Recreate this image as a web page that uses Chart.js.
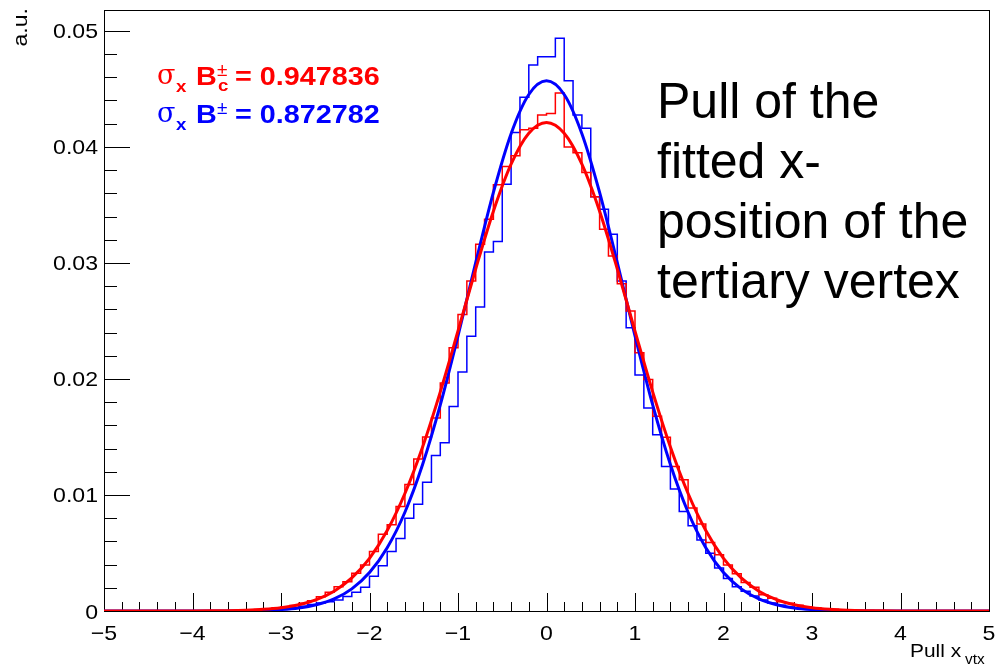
<!DOCTYPE html>
<html>
<head>
<meta charset="utf-8">
<script src="https://cdn.jsdelivr.net/npm/chart.js@4.4.1/dist/chart.umd.min.js"></script>
<style>
  html, body { margin: 0; padding: 0; background: #fff; }
  canvas { display: block; }
</style>
</head>
<body>
<canvas id="pull" width="996" height="667"></canvas>
<script>
// 100 bins of 0.1 between -5 and 5
const binLow = -5;
const binWidth = 0.1;

// B_c± histogram (red), bins -5.0 ... 4.9
const histBc = [
  0, 0, 0, 0, 0, 0, 0, 0, 0, 0,
  0.00001, 0.00002, 0.00002, 0.00003, 0.00005, 0.00007, 0.0001, 0.00014, 0.0002, 0.00027,
  0.00036, 0.00048, 0.00066, 0.00088, 0.00122, 0.00162, 0.0021, 0.00253, 0.00325, 0.00397,
  0.00512, 0.00662, 0.00743, 0.009, 0.0109, 0.0131, 0.015, 0.01664, 0.01966, 0.02268,
  0.02556, 0.02844, 0.0316, 0.03377, 0.03673, 0.03831, 0.03923, 0.04148, 0.0416, 0.04275,
  0.04289, 0.04465, 0.04, 0.0395, 0.0378, 0.0357, 0.0329, 0.0306, 0.0282, 0.02585,
  0.02225, 0.01995, 0.01678, 0.01497, 0.01246, 0.01131, 0.00887, 0.00749, 0.0059, 0.00484,
  0.00397, 0.0032, 0.00245, 0.00205, 0.0014, 0.0011, 0.0008, 0.00066, 0.0005, 0.00037,
  0.00028, 0.0002, 0.00015, 0.0001, 0.00007, 0.00005, 0.00004, 0.00003, 0.00002, 0.00001,
  0, 0, 0, 0, 0, 0, 0, 0, 0, 0
];

// B± histogram (blue)
const histB = [
  0, 0, 0, 0, 0, 0, 0, 0, 0, 0,
  0, 0.00001, 0.00001, 0.00002, 0.00002, 0.00003, 0.00005, 0.00007, 0.0001, 0.00014,
  0.0002, 0.00028, 0.0004, 0.00055, 0.0007, 0.0008, 0.00095, 0.00124, 0.00161, 0.00205,
  0.003, 0.00391, 0.00512, 0.00625, 0.008, 0.0092, 0.0111, 0.0134, 0.0145, 0.01762,
  0.02061, 0.02369, 0.0262, 0.03094, 0.03184, 0.03679, 0.04125, 0.04427, 0.04706, 0.04778,
  0.04778, 0.04937, 0.04571, 0.04275, 0.0416, 0.0357, 0.03463, 0.03247, 0.02844, 0.02441,
  0.02035, 0.0175, 0.0152, 0.01246, 0.01051, 0.00858, 0.00734, 0.00613, 0.00498, 0.0037,
  0.0028, 0.0021, 0.0017, 0.0013, 0.00095, 0.0007, 0.0005, 0.00035, 0.00025, 0.00018,
  0.00012, 0.00008, 0.00006, 0.00004, 0.00002, 0.00002, 0.00001, 0, 0, 0,
  0, 0, 0, 0, 0, 0, 0, 0, 0, 0
];

// gaussian fit curves, sampled off the plot
const fitX = [-5, -4.5, -4, -3.8, -3.6, -3.4, -3.2, -3, -2.8, -2.6, -2.4, -2.2, -2, -1.8, -1.6, -1.4, -1.2, -1, -0.8, -0.6, -0.4, -0.2,
  0, 0.2, 0.4, 0.6, 0.8, 1, 1.2, 1.4, 1.6, 1.8, 2, 2.2, 2.4, 2.6, 2.8, 3, 3.2, 3.4, 3.6, 3.8, 4, 4.5, 5];
const fitBc = [0, 0.000001, 0.0000057, 0.0000136, 0.000031, 0.0000676, 0.000141, 0.000281, 0.000536, 0.000978, 0.00171, 0.00285, 0.00454, 0.00694, 0.01013, 0.01414, 0.01889, 0.02413, 0.02948, 0.03446, 0.03851, 0.04117,
  0.0421, 0.04117, 0.03851, 0.03446, 0.02948, 0.02413, 0.01889, 0.01414, 0.01013, 0.00694, 0.00454, 0.00285, 0.00171, 0.000978, 0.000536, 0.000281, 0.000141, 0.0000676, 0.000031, 0.0000136, 0.0000057, 0.000001, 0];
const fitB = [0, 0, 0.0000013, 0.0000035, 0.0000092, 0.0000231, 0.000055, 0.000124, 0.000266, 0.000541, 0.00104, 0.00191, 0.00331, 0.00545, 0.00851, 0.01262, 0.01776, 0.02371, 0.03002, 0.03608, 0.04114, 0.04452,
  0.0457, 0.04452, 0.04114, 0.03608, 0.03002, 0.02371, 0.01776, 0.01262, 0.00851, 0.00545, 0.00331, 0.00191, 0.00104, 0.000541, 0.000266, 0.000124, 0.000055, 0.0000231, 0.0000092, 0.0000035, 0.0000013, 0, 0];

const xTicks = [-5, -4, -3, -2, -1, 0, 1, 2, 3, 4, 5];
const xTickLabels = ["\u22125", "\u22124", "\u22123", "\u22122", "\u22121", "0", "1", "2", "3", "4", "5"];
const yTicks = [0, 0.01, 0.02, 0.03, 0.04, 0.05];
const yTickLabels = ["0", "0.01", "0.02", "0.03", "0.04", "0.05"];

const RED = "#ff0000";
const BLUE = "#0000ff";

function stepPoints(vals) {
  const pts = vals.map((v, i) => ({ x: binLow + i * binWidth, y: v }));
  pts.push({ x: binLow + vals.length * binWidth, y: vals[vals.length - 1] });
  return pts;
}

function curvePoints(xs, ys) {
  return xs.map((x, i) => ({ x, y: ys[i] }));
}

// text squeezed/stretched horizontally like the ROOT output
function txt(ctx, s, x, y, font, color, sx, align) {
  ctx.save();
  ctx.font = font;
  ctx.fillStyle = color;
  ctx.textAlign = align || "left";
  ctx.textBaseline = "alphabetic";
  ctx.translate(x, y);
  ctx.scale(sx || 1, 1);
  ctx.fillText(s, 0, 0);
  ctx.restore();
}

const rootFrame = {
  id: "rootFrame",
  beforeDatasetsDraw(chart) {
    const { ctx, chartArea: a, scales } = chart;
    const xs = scales.x, ys = scales.y;
    ctx.save();
    ctx.strokeStyle = "#000";
    ctx.lineWidth = 1;
    ctx.strokeRect(a.left + 0.5, a.top + 0.5, a.right - a.left, a.bottom - a.top);

    ctx.beginPath();
    // x ticks: major every 1, minor every 0.2, pointing up
    for (let k = 0; k <= 50; k++) {
      const v = -5 + k * 0.2;
      const px = Math.round(xs.getPixelForValue(v)) + 0.5;
      const len = k % 5 === 0 ? 18 : 9;
      ctx.moveTo(px, a.bottom);
      ctx.lineTo(px, a.bottom - len);
    }
    // y ticks: major every 0.01, minor every 0.002, pointing right
    for (let k = 0; k <= 25; k++) {
      const v = k * 0.002;
      const py = Math.round(ys.getPixelForValue(v)) + 0.5;
      const len = k % 5 === 0 ? 26 : 13;
      ctx.moveTo(a.left, py);
      ctx.lineTo(a.left + len, py);
    }
    ctx.stroke();
    ctx.restore();

    const lf = "21px 'Liberation Sans', Arial, sans-serif";
    xTicks.forEach((v, i) => {
      txt(ctx, xTickLabels[i], xs.getPixelForValue(v), 640, lf, "#000", 1.1, "center");
    });
    yTicks.forEach((v, i) => {
      txt(ctx, yTickLabels[i], 98, ys.getPixelForValue(v) + 7.5, lf, "#000", 1.1, "right");
    });
  },
  afterDraw(chart) {
    const { ctx } = chart;
    const lf = "21px 'Liberation Sans', Arial, sans-serif";

    // y title, rotated
    ctx.save();
    ctx.translate(27, 8);
    ctx.rotate(-Math.PI / 2);
    txt(ctx, "a.u.", 0, 0, lf, "#000", 1.1, "right");
    ctx.restore();

    // x title
    txt(ctx, "Pull x", 910, 657, "19px 'Liberation Sans', Arial, sans-serif", "#000", 1.1, "left");
    txt(ctx, "vtx", 965, 664, "14px 'Liberation Sans', Arial, sans-serif", "#000", 1.1, "left");

    // fit sigma legend
    const bf = "bold 25px 'Liberation Sans', Arial, sans-serif";
    const sub = "bold 17px 'Liberation Sans', Arial, sans-serif";
    const sig = "27px 'DejaVu Serif', 'Liberation Serif', serif";
    const lines = [
      { color: RED, base: 85, sub2: "c", value: "= 0.947836" },
      { color: BLUE, base: 123, sub2: "", value: "= 0.872782" }
    ];
    lines.forEach(l => {
      txt(ctx, "\u03c3", 157, l.base - 1, sig, l.color, 1.0);
      txt(ctx, "x", 176, l.base + 7, sub, l.color, 1.1);
      txt(ctx, "B", 196, l.base, bf, l.color, 1.15);
      txt(ctx, "\u00b1", 217, l.base - 9, "19px 'Liberation Sans', Arial, sans-serif", l.color, 1.0);
      if (l.sub2) txt(ctx, l.sub2, 218, l.base + 6, sub, l.color, 1.1);
      txt(ctx, l.value, 235, l.base, bf, l.color, 1.15);
    });

    // description
    const big = "50px 'Liberation Sans', Arial, sans-serif";
    ["Pull of the", "fitted x-", "position of the", "tertiary vertex"].forEach((s, i) => {
      txt(ctx, s, 657, 118 + i * 60, big, "#000", 1.0);
    });
  }
};

new Chart(document.getElementById("pull"), {
  type: "line",
  data: {
    datasets: [
      {
        label: "fit Bc",
        data: curvePoints(fitX, fitBc),
        borderColor: RED,
        borderWidth: 3,
        cubicInterpolationMode: "monotone",
        pointRadius: 0,
        fill: false,
        order: 0
      },
      {
        label: "fit B",
        data: curvePoints(fitX, fitB),
        borderColor: BLUE,
        borderWidth: 3,
        cubicInterpolationMode: "monotone",
        pointRadius: 0,
        fill: false,
        order: 1
      },
      {
        label: "Bc",
        data: stepPoints(histBc),
        borderColor: RED,
        borderWidth: 1.5,
        stepped: "before",
        pointRadius: 0,
        fill: false,
        order: 2
      },
      {
        label: "B",
        data: stepPoints(histB),
        borderColor: BLUE,
        borderWidth: 1.5,
        stepped: "before",
        pointRadius: 0,
        fill: false,
        order: 3
      }
    ]
  },
  options: {
    responsive: false,
    animation: false,
    devicePixelRatio: 1,
    layout: { padding: { left: 104, right: 7, top: 10, bottom: 56 } },
    plugins: { legend: { display: false }, tooltip: { enabled: false } },
    scales: {
      x: { type: "linear", min: -5, max: 5, display: false },
      y: { type: "linear", min: 0, max: 0.0518, display: false }
    }
  },
  plugins: [rootFrame]
});
</script>
</body>
</html>
